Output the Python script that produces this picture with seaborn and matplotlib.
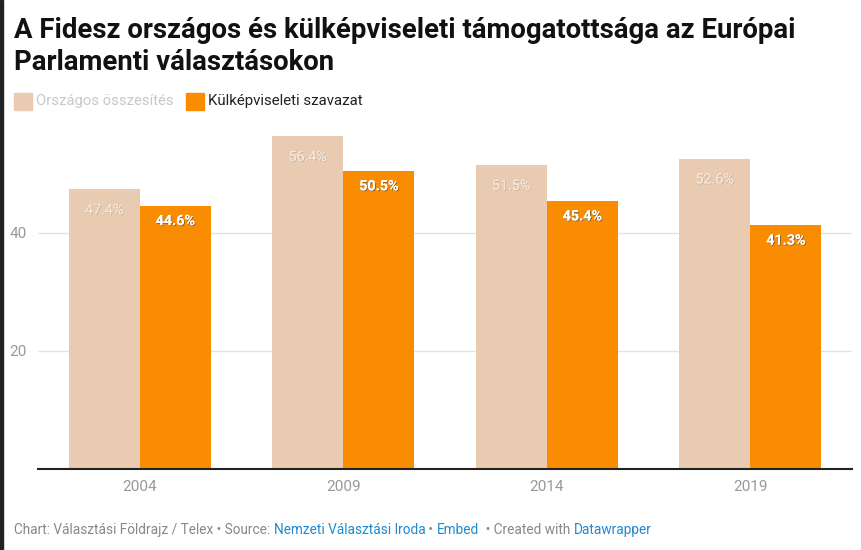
import matplotlib
matplotlib.use("Agg")
import matplotlib.pyplot as plt
import matplotlib.patheffects as pe
import pandas as pd
import seaborn as sns

years = ["2004", "2009", "2014", "2019"]
national = [47.4, 56.4, 51.5, 52.6]
abroad = [44.6, 50.5, 45.4, 41.3]
series_names = ["Országos összesítés", "Külképviseleti szavazat"]
colors = ["#e9cbb1", "#f98c00"]
yticks = [20, 40]

df = pd.DataFrame({
    "year": years * 2,
    "value": national + abroad,
    "series": [series_names[0]] * 4 + [series_names[1]] * 4,
})

sns.set_theme(style="white")
plt.rcParams["font.family"] = ["Roboto", "DejaVu Sans"]

fig = plt.figure(figsize=(8.62, 5.5), dpi=100)
W, H = 862, 550
ax = fig.add_axes([38 / W, (550 - 469) / H, (852 - 38) / W, (469 - 120) / H])

sns.barplot(df, x="year", y="value", hue="series", palette=colors,
            width=0.70, gap=0, saturation=1, linewidth=0, ax=ax, legend=False)

ax.set_xlim(-0.5, 3.5)
ax.set_ylim(0, 349 / 5.9)
ax.set_yticks(yticks)
ax.yaxis.grid(True, color="#e3e3e3", linewidth=1)
ax.set_axisbelow(True)
ax.set_xlabel("")
ax.set_ylabel("")
for s in ["top", "right", "left"]:
    ax.spines[s].set_visible(False)
ax.spines["bottom"].set_color("#222222")
ax.spines["bottom"].set_linewidth(1.5)
ax.tick_params(axis="y", length=0, labelsize=11, labelcolor="#999999", pad=8)
ax.tick_params(axis="x", length=0, labelsize=11, labelcolor="#999999", pad=8)

# value labels
for i, cont in enumerate(ax.containers):
    for bar, v in zip(cont, national if i == 0 else abroad):
        x = bar.get_x() + bar.get_width() / 2
        if i == 0:
            t = ax.annotate(f"{v}%", (x, v), xytext=(0, -15), textcoords="offset points",
                            ha="center", va="center", fontsize=10.3, color="#f3e6da")
            t.set_path_effects([pe.withSimplePatchShadow(offset=(0.6, -0.6), shadow_rgbFace="#b89a80", alpha=0.6),
                                pe.Normal()])
        else:
            t = ax.annotate(f"{v}%", (x, v), xytext=(0, -11), textcoords="offset points",
                            ha="center", va="center", fontsize=10.3, fontweight="bold", color="white")
            t.set_path_effects([pe.withSimplePatchShadow(offset=(0.6, -0.6), shadow_rgbFace="#333333", alpha=0.6),
                                pe.Normal()])

# title
fig.text(14 / W, 1 - 30 / H, "A Fidesz országos és külképviseleti támogatottsága az Európai",
         fontsize=19.8, fontweight="bold", color="#111111", va="center")
fig.text(14 / W, 1 - 62 / H, "Parlamenti választásokon",
         fontsize=19.8, fontweight="bold", color="#111111", va="center")

# legend
fig.patches.append(plt.Rectangle((14 / W, 1 - 110 / H), 18 / W, 17 / H,
                                 transform=fig.transFigure, color=colors[0]))
fig.text(36 / W, 1 - 101 / H, series_names[0], fontsize=10.7, color="#c8c8c8", va="center")
fig.patches.append(plt.Rectangle((186 / W, 1 - 110 / H), 18 / W, 17 / H,
                                 transform=fig.transFigure, color=colors[1]))
fig.text(208 / W, 1 - 101 / H, series_names[1], fontsize=10.8, color="#222222", va="center")

# footer
footer = [
    ("Chart: Választási Földrajz / Telex • Source: ", "#888888"),
    ("Nemzeti Választási Iroda", "#1d8ad0"),
    (" • ", "#888888"),
    ("Embed", "#1d8ad0"),
    ("  • Created with ", "#888888"),
    ("Datawrapper", "#1d8ad0"),
]
fig.canvas.draw()
renderer = fig.canvas.get_renderer()
xpos = 14
for txt, col in footer:
    t = fig.text(xpos / W, 1 - 530 / H, txt, fontsize=9.85, color=col, va="center")
    xpos += t.get_window_extent(renderer).width

# dark strip on the left edge
fig.patches.append(plt.Rectangle((0, 0), 3 / W, 1, transform=fig.transFigure, color="#222222"))

fig.savefig("out.png", dpi=100)
